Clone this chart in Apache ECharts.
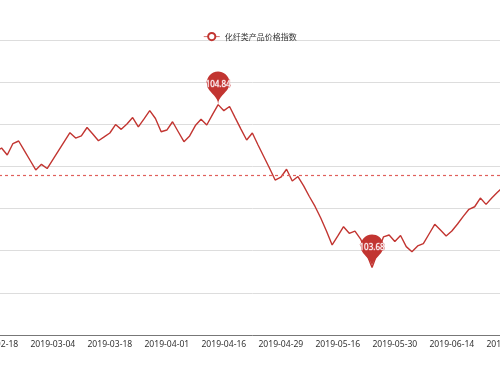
<!DOCTYPE html>
<html>
<head>
<meta charset="utf-8">
<script src="https://cdn.jsdelivr.net/npm/echarts@6/dist/echarts.min.js"></script>
<style>
html,body{margin:0;padding:0;width:500px;height:375px;overflow:hidden;background:#fff;}
#chart{position:absolute;left:-50px;top:0;width:600px;height:375px;}
</style>
</head>
<body>
<div id="chart"></div>
<script>
const seriesName = '化纤类产品价格指数';
const dates = [
'2019-02-18','2019-02-19','2019-02-20','2019-02-21','2019-02-22','2019-02-25','2019-02-26','2019-02-27','2019-02-28','2019-03-01',
'2019-03-04','2019-03-05','2019-03-06','2019-03-07','2019-03-08','2019-03-11','2019-03-12','2019-03-13','2019-03-14','2019-03-15',
'2019-03-18','2019-03-19','2019-03-20','2019-03-21','2019-03-22','2019-03-25','2019-03-26','2019-03-27','2019-03-28','2019-03-29',
'2019-04-01','2019-04-02','2019-04-03','2019-04-04','2019-04-08','2019-04-09','2019-04-10','2019-04-11','2019-04-12','2019-04-15',
'2019-04-16','2019-04-17','2019-04-18','2019-04-19','2019-04-22','2019-04-23','2019-04-24','2019-04-25','2019-04-26','2019-04-28',
'2019-04-29','2019-04-30','2019-05-06','2019-05-07','2019-05-08','2019-05-09','2019-05-10','2019-05-13','2019-05-14','2019-05-15',
'2019-05-16','2019-05-17','2019-05-20','2019-05-21','2019-05-22','2019-05-23','2019-05-24','2019-05-27','2019-05-28','2019-05-29',
'2019-05-30','2019-05-31','2019-06-03','2019-06-04','2019-06-05','2019-06-06','2019-06-10','2019-06-11','2019-06-12','2019-06-13',
'2019-06-14','2019-06-17','2019-06-18','2019-06-19','2019-06-20','2019-06-21','2019-06-24','2019-06-25','2019-06-26','2019-06-27',
'2019-06-28'
];
const values = [
104.503,104.531,104.481,104.563,104.581,104.512,104.444,104.375,104.415,104.385,
104.449,104.513,104.577,104.640,104.602,104.617,104.677,104.631,104.583,104.610,
104.638,104.698,104.664,104.702,104.748,104.681,104.738,104.797,104.741,104.647,
104.659,104.718,104.647,104.576,104.617,104.691,104.736,104.695,104.769,104.840,
104.797,104.827,104.746,104.666,104.588,104.638,104.553,104.471,104.389,104.303,
104.323,104.380,104.296,104.328,104.261,104.186,104.115,104.033,103.940,103.841,
103.905,103.971,103.924,103.940,103.883,103.784,103.680,103.791,103.898,103.912,
103.866,103.908,103.829,103.793,103.834,103.851,103.919,103.988,103.948,103.905,
103.940,103.990,104.044,104.095,104.113,104.175,104.130,104.175,104.216,104.254
];
const yMin = 103.2, yMax = 105.3, yStep = 0.3;

const chart = echarts.init(document.getElementById('chart'), null, {renderer:'canvas'});
const red = '#c23531';
chart.setOption({
  animation: false,
  legend: {
    data: [seriesName],
    left: 'center',
    top: 27,
    itemWidth: 16,
    itemHeight: 9,
    itemStyle: {borderWidth: 1},
    lineStyle: {width: 1, opacity: 0.7},
    textStyle: {fontSize: 8, color: '#333', fontFamily: 'Noto Sans CJK SC'}
  },
  grid: {left: 43, right: 38.3, top: 40, bottom: 40, containLabel: false},
  xAxis: {
    type: 'category',
    data: dates,
    boundaryGap: true,
    axisLine: {lineStyle: {color: '#777', width: 1}},
    axisTick: {length: 3, lineStyle: {color: '#777'}},
    axisLabel: {interval: 9, fontSize: 8.6, margin: 5, color: '#333', fontFamily: 'Noto Sans'}
  },
  yAxis: {
    type: 'value',
    min: yMin, max: yMax, interval: yStep,
    axisLine: {show: false},
    axisTick: {show: false},
    axisLabel: {fontSize: 8.6, color: '#333'},
    splitLine: {lineStyle: {color: '#ddd', width: 1}}
  },
  series: [{
    name: seriesName,
    type: 'line',
    data: values,
    symbol: 'emptyCircle',
    showSymbol: false,
    itemStyle: {color: red},
    lineStyle: {color: red, width: 1.4},
    markPoint: {
      symbol: 'pin',
      symbolSize: 38,
      itemStyle: {color: red},
      label: {color: '#fff', fontSize: 8, fontFamily: 'Noto Sans', textBorderColor: '#d9777a', textBorderWidth: 1},
      data: [{type: 'max', name: '最大值'}, {type: 'min', name: '最小值'}]
    },
    markLine: {
      symbol: ['none', 'none'],
      silent: true,
      label: {show: false},
      data: [{
        type: 'average',
        name: '平均值',
        lineStyle: {color: '#e0605c', type: [3, 3], width: 1.2, opacity: 1}
      }]
    }
  }]
});
</script>
</body>
</html>
